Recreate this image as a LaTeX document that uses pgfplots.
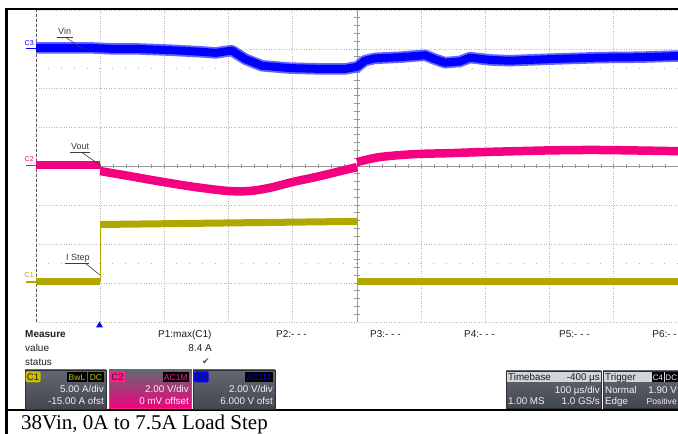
\documentclass[border=0pt]{standalone}
\usepackage{fontspec}
\setmainfont{Liberation Sans}
\newfontfamily\capfont{Liberation Serif}
\newfontfamily\symfont{DejaVu Sans}
\usepackage{pgfplots}
\pgfplotsset{compat=1.18}
\definecolor{chblue}{RGB}{0,0,255}
\definecolor{chpink}{RGB}{245,0,128}
\definecolor{chyel}{RGB}{176,168,0}
\definecolor{tagyel}{RGB}{200,192,0}
\definecolor{tagpink}{RGB}{255,30,140}
\definecolor{gridc}{RGB}{185,185,185}
\definecolor{ctrc}{RGB}{150,150,150}
\definecolor{boxtop}{RGB}{100,104,113}
\definecolor{boxmid}{RGB}{132,136,144}
\definecolor{boxbot}{RGB}{66,70,78}
\definecolor{boxedge}{RGB}{45,47,52}
\definecolor{lightrow}{RGB}{210,213,218}
\definecolor{txtdark}{RGB}{30,30,30}
\definecolor{boxtxt}{RGB}{242,242,242}
\definecolor{annot}{RGB}{60,60,60}
\newcommand{\sz}[1]{\fontsize{#1}{#1}\selectfont}

\pgfplotstableread{
x y
0.00 3.03
0.37 3.03
0.84 3.03
1.23 3.00
1.62 3.00
2.09 2.97
2.55 2.93
2.80 2.90
3.05 2.96
3.26 2.74
3.52 2.57
3.96 2.51
4.42 2.49
4.81 2.49
5.00 2.54
5.12 2.70
5.28 2.76
5.67 2.79
6.06 2.84
6.21 2.74
6.37 2.65
6.60 2.68
6.76 2.78
7.07 2.72
7.38 2.70
8.01 2.74
8.79 2.78
9.41 2.79
10.00 2.82
}\vin

\begin{document}
\begin{tikzpicture}
\useasboundingbox (0,0) rectangle (678pt,434pt);
\clip (0,0) rectangle (678pt,434pt);
\fill[white] (0,0) rectangle (678pt,434pt);

\begin{axis}[
  at={(36pt,112pt)}, anchor=south west,
  scale only axis, width=642pt, height=312pt,
  xmin=0, xmax=10, ymin=-4, ymax=4,
  xtick={0,...,10}, ytick={-4,...,4},
  xticklabels={}, yticklabels={},
  tick style={draw=none},
  grid=major,
  major grid style={gridc, line width=0.7pt, dash pattern=on 1pt off 1.5pt},
  axis line style={draw=none},
]
% centre lines with ticks
\draw[ctrc, line width=0.8pt] (axis cs:5,-4) -- (axis cs:5,4);
\draw[ctrc, line width=0.8pt] (axis cs:0,0) -- (axis cs:10,0);
\pgfplotsinvokeforeach{1,...,39}{\draw[ctrc, line width=0.7pt] (axis cs:4.96,{-4+#1*0.2}) -- (axis cs:5.04,{-4+#1*0.2});}
\pgfplotsinvokeforeach{1,...,49}{\draw[ctrc, line width=0.7pt] (axis cs:{#1*0.2},-0.064) -- (axis cs:{#1*0.2},0.064);}
\draw[ctrc!70, line width=0.8pt, dash pattern=on 0.8pt off 12.04pt, dash phase=-12pt] (axis cs:0,2.5) -- (axis cs:10,2.5);
\draw[ctrc!70, line width=0.8pt, dash pattern=on 0.8pt off 12.04pt, dash phase=-12pt] (axis cs:0,-2.5) -- (axis cs:10,-2.5);
\draw[black!65, line width=0.9pt, dash pattern=on 3pt off 2pt] (axis cs:0,-4) -- (axis cs:0,4);
\draw[gridc, line width=0.9pt] (axis cs:0,-4) -- (axis cs:10,-4);

% C3 Vin (blue)
\addplot[chblue!60, line width=11.5pt, line join=round, line cap=butt] table {\vin};
\addplot[chblue, line width=8pt, line join=round, line cap=butt] table {\vin};

% C2 Vout (pink)
\addplot[chpink, line width=1pt] coordinates {(1,0.03)(1,-0.13)};
\addplot[chpink, line width=1pt] coordinates {(5,-0.03)(5,0.10)};
\addplot[chpink, line width=8.5pt, line cap=butt] coordinates {(0,0.03)(1,0.03)};
\addplot[chpink, line width=8.5pt, line cap=butt, line join=round, smooth] coordinates {
(1,-0.13)(1.46,-0.26)(1.98,-0.41)(2.48,-0.54)(2.99,-0.64)(3.33,-0.64)(3.64,-0.56)(4.0,-0.41)(4.42,-0.26)(4.74,-0.13)(5.0,-0.03)};
\addplot[chpink, line width=8.5pt, line cap=butt, line join=round, smooth] coordinates {
(5.0,0.10)(5.20,0.18)(5.36,0.23)(5.67,0.28)(5.98,0.31)(6.45,0.33)(7.01,0.36)(8.01,0.40)(8.79,0.41)(10,0.38)};

% C1 I step (yellow)
\addplot[chyel, line width=1pt] coordinates {(1,-2.95)(1,-1.50)};
\addplot[chyel, line width=1pt] coordinates {(5,-1.42)(5,-2.95)};
\addplot[chyel, line width=7pt, line cap=butt] coordinates {(0,-2.95)(1,-2.95)};
\addplot[chyel, line width=7pt, line cap=butt] coordinates {(1,-1.50)(5,-1.42)};
\addplot[chyel, line width=7pt, line cap=butt] coordinates {(5,-2.95)(10,-2.95)};
\end{axis}

\begin{scope}[yshift=434pt, x=1pt, y=-1pt]
% frame
\fill[black] (5,8) rectangle (678,10.5);
\fill[black] (5,8) rectangle (7.5,434);
\fill[black] (5,409) rectangle (678,411.5);

% channel markers
\node[anchor=base west, inner sep=0, chblue] at (24.5,45.5) {\sz{7}C3};
\draw[chblue, line width=1.6pt] (26,48.5) -- (36,48.5);
\node[anchor=base west, inner sep=0, chpink] at (24.5,162) {\sz{7}C2};
\draw[chpink, line width=1.6pt] (26,165.5) -- (36,165.5);
\node[anchor=base west, inner sep=0, chyel] at (24.5,278) {\sz{7}C1};
\draw[chyel, line width=1.6pt] (26,282) -- (36,282);

% annotations
\node[anchor=base west, inner sep=0, annot] at (58,35) {\sz{9}Vin};
\draw[annot, line width=0.6pt] (57,37.5) -- (73,37.5);
\draw[annot, line width=0.6pt] (66,37.5) -- (83,49);
\node[anchor=base west, inner sep=0, annot] at (71,150) {\sz{9}Vout};
\draw[annot, line width=0.6pt] (70,152.5) -- (90,152.5);
\draw[annot, line width=0.6pt] (82,152.5) -- (100,165);
\node[anchor=base west, inner sep=0, annot] at (66,260.5) {\sz{9}I Step};
\draw[annot, line width=0.6pt] (65,263) -- (89,263);
\draw[annot, line width=0.6pt] (85,263) -- (100,275);

% trigger marker
\fill[chblue] (96,327.5) -- (103,327.5) -- (99.5,321.5) -- cycle;

% measure area
\node[anchor=base west, inner sep=0, txtdark] at (25,338) {\sz{10}\bfseries Measure};
\node[anchor=base west, inner sep=0, txtdark] at (25,352) {\sz{10}value};
\node[anchor=base west, inner sep=0, txtdark] at (25,366) {\sz{10}status};
\node[anchor=base west, inner sep=0, txtdark] at (158,338) {\sz{10}P1:max(C1)};
\node[anchor=base east, inner sep=0, txtdark] at (212,352) {\sz{10}8.4 A};
\node[inner sep=0, txtdark!80] at (206,361.5) {\symfont\sz{9}✔};
\node[anchor=base west, inner sep=0, txtdark] at (276,338) {\sz{10}P2:- - -};
\node[anchor=base west, inner sep=0, txtdark] at (370,338) {\sz{10}P3:- - -};
\node[anchor=base west, inner sep=0, txtdark] at (464,338) {\sz{10}P4:- - -};
\node[anchor=base west, inner sep=0, txtdark] at (559,338) {\sz{10}P5:- - -};
\node[anchor=base east, inner sep=0, txtdark] at (677,338) {\sz{10}P6:- -};

% C1 box
\shade[top color=boxtop, middle color=boxmid, bottom color=boxbot] (25,370) rectangle (106,409);
\draw[boxedge, line width=0.8pt] (25,370) rectangle (106,409);
\fill[tagyel, rounded corners=1.5pt] (25.5,371.5) rectangle (40.5,382.5);
\node[txtdark, inner sep=0] at (33,377.5) {\sz{9.5}C1};
\fill[black] (67,372) rectangle (87,382.5);
\node[tagyel, inner sep=0] at (77,377.5) {\sz{8.5}BwL};
\fill[black] (88,372) rectangle (104,382.5);
\node[tagyel, inner sep=0] at (96,377.5) {\sz{8.5}DC};
\node[anchor=base east, inner sep=0, boxtxt] at (104,393) {\sz{9.8}5.00 A/div};
\node[anchor=base east, inner sep=0, boxtxt] at (104,405) {\sz{9.8}-15.00 A ofst};

% C2 box
\shade[top color=boxtop, middle color=boxtop!60!chpink, bottom color=chpink] (109,370) rectangle (191,409);
\draw[tagpink, line width=1pt] (109,370) rectangle (191,409);
\fill[tagpink, rounded corners=1.5pt] (110,371.5) rectangle (125,382.5);
\node[txtdark, inner sep=0] at (117.5,377.5) {\sz{9.5}C2};
\fill[black] (162.5,372) rectangle (189,382.5);
\node[tagpink, inner sep=0] at (175.75,377.5) {\sz{8.5}AC1M};
\node[anchor=base east, inner sep=0, boxtxt] at (189,393) {\sz{9.8}2.00 V/div};
\node[anchor=base east, inner sep=0, boxtxt] at (189,405) {\sz{9.8}0 mV offset};

% C3 box
\shade[top color=boxtop, middle color=boxmid, bottom color=boxbot] (193,370) rectangle (275,409);
\draw[boxedge, line width=0.8pt] (193,370) rectangle (275,409);
\fill[chblue, rounded corners=1.5pt] (194,371.5) rectangle (208.5,382.5);
\node[txtdark, inner sep=0] at (201.25,377.5) {\sz{9.5}C3};
\fill[black] (245,372) rectangle (272.5,382.5);
\node[chblue, inner sep=0] at (258.75,377.5) {\sz{8.5}AC1M};
\node[anchor=base east, inner sep=0, boxtxt] at (273,393) {\sz{9.8}2.00 V/div};
\node[anchor=base east, inner sep=0, boxtxt] at (273,405) {\sz{9.8}6.000 V ofst};

% Timebase box
\shade[top color=boxtop, middle color=boxmid, bottom color=boxbot] (506,371) rectangle (601,408);
\fill[lightrow] (506,371) rectangle (601,382.5);
\draw[boxedge, line width=0.8pt] (506,371) rectangle (601,408);
\node[anchor=base west, inner sep=0, txtdark] at (508,380.5) {\sz{9.8}Timebase};
\node[anchor=base east, inner sep=0, txtdark] at (600,380.5) {\sz{9.8}-400 µs};
\node[anchor=base east, inner sep=0, boxtxt] at (600,393.5) {\sz{9.8}100 µs/div};
\node[anchor=base west, inner sep=0, boxtxt] at (508,404.5) {\sz{9.8}1.00 MS};
\node[anchor=base east, inner sep=0, boxtxt] at (600,404.5) {\sz{9.8}1.0 GS/s};

% Trigger box
\shade[top color=boxtop, middle color=boxmid, bottom color=boxbot] (603,371) rectangle (700,408);
\fill[lightrow] (603,371) rectangle (700,382.5);
\draw[boxedge, line width=0.8pt] (603,371) rectangle (700,408);
\node[anchor=base west, inner sep=0, txtdark] at (605,380.5) {\sz{9.8}Trigger};
\fill[black] (652,372.5) rectangle (664,382);
\node[boxtxt, inner sep=0] at (658,377.5) {\sz{8}C4};
\fill[black] (665,372.5) rectangle (677.5,382);
\node[boxtxt, inner sep=0] at (671.25,377.5) {\sz{8}DC};
\node[anchor=base west, inner sep=0, boxtxt] at (605,393.5) {\sz{9.8}Normal};
\node[anchor=base east, inner sep=0, boxtxt] at (677,393.5) {\sz{9.8}1.90 V};
\node[anchor=base west, inner sep=0, boxtxt] at (605,404.5) {\sz{9.8}Edge};
\node[anchor=base east, inner sep=0, boxtxt] at (677,404.5) {\sz{8.6}Positive};

% caption
\node[anchor=base west, inner sep=0, black] at (21,430) {\capfont\sz{21}38Vin, 0A to 7.5A Load Step};
\end{scope}
\end{tikzpicture}
\end{document}
